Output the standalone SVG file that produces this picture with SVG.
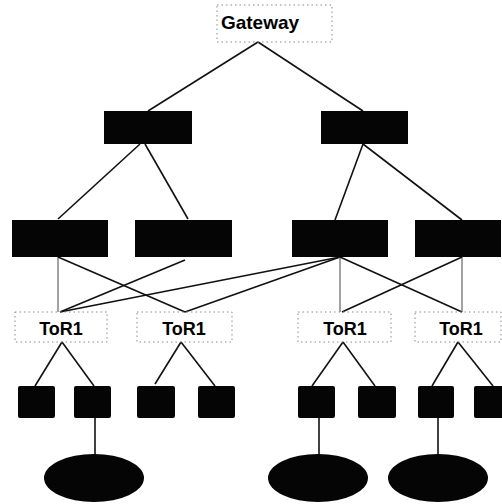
<svg xmlns="http://www.w3.org/2000/svg" width="502" height="504" viewBox="0 0 502 504">
<style>
.lbl{fill:none;stroke:#8a8a8a;stroke-width:1;stroke-dasharray:1.5 3}
.blk{fill:#050505}
.srv{fill:#050505}
.t{font-family:"Liberation Sans",Arial,sans-serif;font-weight:bold;fill:#000;text-anchor:middle}
#connectors line{stroke:#111;stroke-width:1.6}
#connectors line.thin{stroke:#444;stroke-width:1}
</style>
<rect width="502" height="504" fill="#fff"/>
<g id="connectors">
<line x1="258" y1="42" x2="148" y2="111"/>
<line x1="258" y1="42" x2="363" y2="111"/>
<line x1="140" y1="144" x2="58" y2="219"/>
<line x1="145" y1="144" x2="188" y2="219"/>
<line x1="363" y1="144" x2="335" y2="220"/>
<line x1="363" y1="144" x2="462" y2="220"/>
<line class="thin" x1="58" y1="257" x2="58" y2="312"/>
<line x1="58" y1="257" x2="185" y2="312"/>
<line x1="185" y1="260" x2="60" y2="312"/>
<line x1="340" y1="257" x2="60" y2="312"/>
<line x1="340" y1="257" x2="185" y2="312"/>
<line class="thin" x1="340" y1="257" x2="340" y2="312"/>
<line x1="340" y1="257" x2="462" y2="312"/>
<line class="thin" x1="462" y1="257" x2="462" y2="312"/>
<line x1="462" y1="257" x2="342" y2="312"/>
<line x1="62" y1="342" x2="35" y2="386"/>
<line x1="62" y1="342" x2="94" y2="386"/>
<line x1="181" y1="342" x2="155" y2="384"/>
<line x1="181" y1="342" x2="215" y2="386"/>
<line x1="343" y1="342" x2="312" y2="386"/>
<line x1="343" y1="342" x2="375" y2="386"/>
<line x1="458" y1="342" x2="432" y2="386"/>
<line x1="458" y1="342" x2="493" y2="386"/>
<line x1="95" y1="418" x2="95" y2="455"/>
<line x1="319" y1="418" x2="319" y2="455"/>
<line x1="438" y1="418" x2="438" y2="455"/>
</g>
<g id="gateway"><rect class="lbl" x="217" y="5" width="115" height="37"/><text class="t" x="260" y="29" font-size="19">Gateway</text></g>
<g id="core1"><rect class="blk" x="104" y="111" width="88" height="33"/></g>
<g id="core2"><rect class="blk" x="321" y="111" width="87" height="33"/></g>
<g id="agg1"><rect class="blk" x="12" y="220" width="96" height="37"/></g>
<g id="agg2"><rect class="blk" x="135" y="220" width="97" height="37"/></g>
<g id="agg3"><rect class="blk" x="292" y="220" width="96" height="37"/></g>
<g id="agg4"><rect class="blk" x="415" y="220" width="86" height="37"/></g>
<g id="tor1"><rect class="lbl" x="15" y="312" width="92" height="30"/><text class="t" x="61" y="335" font-size="18">ToR1</text></g>
<g id="tor2"><rect class="lbl" x="137" y="312" width="95" height="30"/><text class="t" x="184" y="335" font-size="18">ToR1</text></g>
<g id="tor3"><rect class="lbl" x="298" y="312" width="93" height="30"/><text class="t" x="345" y="335" font-size="18">ToR1</text></g>
<g id="tor4"><rect class="lbl" x="415" y="312" width="86" height="30"/><text class="t" x="461" y="335" font-size="18">ToR1</text></g>
<g id="srv1"><rect class="srv" x="18" y="386" width="37" height="32" rx="2"/></g>
<g id="srv2"><rect class="srv" x="74" y="386" width="37" height="32" rx="2"/></g>
<g id="srv3"><rect class="srv" x="137" y="386" width="38" height="32" rx="2"/></g>
<g id="srv4"><rect class="srv" x="198" y="386" width="37" height="32" rx="2"/></g>
<g id="srv5"><rect class="srv" x="298" y="386" width="37" height="32" rx="2"/></g>
<g id="srv6"><rect class="srv" x="358" y="386" width="38" height="32" rx="2"/></g>
<g id="srv7"><rect class="srv" x="418" y="386" width="36" height="32" rx="2"/></g>
<g id="srv8"><rect class="srv" x="474" y="386" width="30" height="32" rx="2"/></g>
<g id="vm1"><ellipse class="blk" cx="94" cy="478" rx="50" ry="24"/></g>
<g id="vm2"><ellipse class="blk" cx="318" cy="478" rx="50" ry="24"/></g>
<g id="vm3"><ellipse class="blk" cx="438" cy="478" rx="50" ry="24"/></g>
</svg>
